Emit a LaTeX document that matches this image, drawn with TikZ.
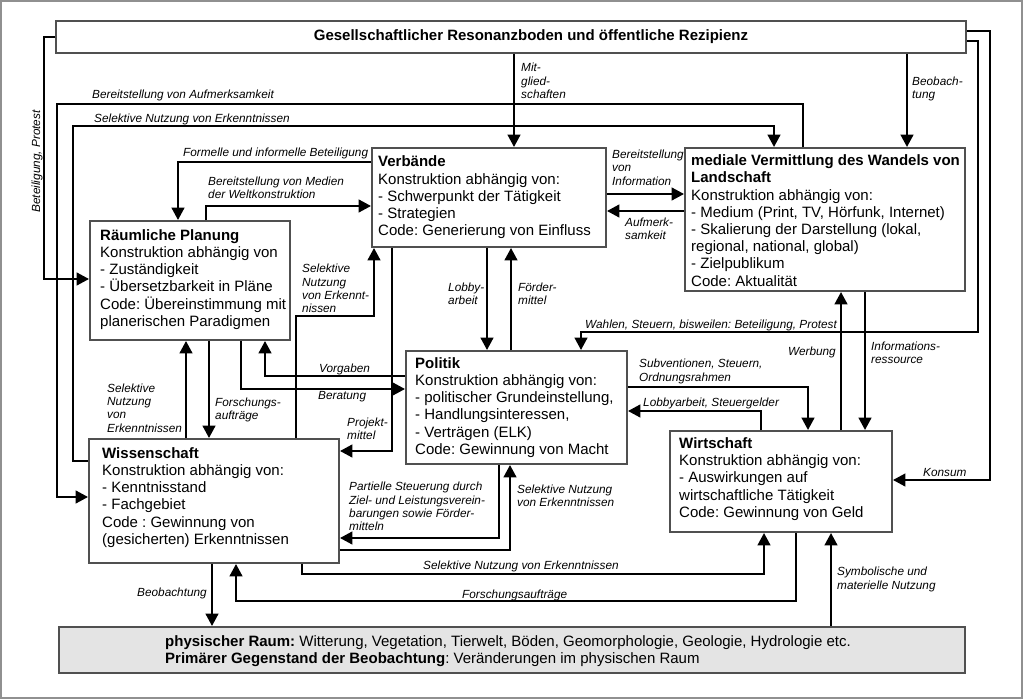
\documentclass[tikz,border=0pt]{standalone}
\usepackage{fontspec}
\setmainfont{Liberation Sans}
\usetikzlibrary{arrows.meta}
\definecolor{boxc}{HTML}{505050}
\definecolor{framec}{HTML}{909090}
\definecolor{physc}{HTML}{E4E4E4}
\frenchspacing
\begin{document}
\frenchspacing
\begin{tikzpicture}[x=1pt,y=-1pt,
  box/.style={draw=boxc, line width=1.8pt, fill=white, inner sep=0pt},
  btext/.style={anchor=west, align=left, inner sep=0pt, font=\fontsize{15}{17.2}\selectfont},
  lab/.style={anchor=west, align=left, inner sep=0pt, font=\fontsize{11.8}{13.4}\selectfont\itshape},
  conn/.style={line width=2.8pt, -{Triangle[length=12.5pt,width=12.5pt]}},
  nline/.style={line width=2.8pt}
]
\useasboundingbox (0,0) rectangle (1024,700);
\draw[framec, line width=1.5pt] (1,1) rectangle (1022,698);

% boxes
\node[box, minimum width=910pt, minimum height=32pt] (soc) at (511,37) {};
\node[inner sep=0pt, font=\fontsize{15}{17.2}\selectfont\bfseries] (socT) at (531,37) {Gesellschaftlicher Resonanzboden und öffentliche Rezipienz};

\node[box, minimum width=234pt, minimum height=99pt] (verb) at (489,197.5) {};
\node[btext] (verbT) at (378,197.5) {\textbf{Verbände}\\Konstruktion abhängig von:\\- Schwerpunkt der Tätigkeit\\- Strategien\\Code: Generierung von Einfluss};

\node[box, minimum width=280pt, minimum height=143pt] (med) at (825,219.5) {};
\node[btext] (medT) at (691,220.5) {\textbf{mediale Vermittlung des Wandels von}\\\textbf{Landschaft}\\Konstruktion abhängig von:\\- Medium (Print, TV, Hörfunk, Internet)\\- Skalierung der Darstellung (lokal,\\regional, national, global)\\- Zielpublikum\\Code: Aktualität};

\node[box, minimum width=200pt, minimum height=119pt] (rp) at (190,280.5) {};
\node[btext] (rpT) at (100,279.5) {\textbf{Räumliche Planung}\\Konstruktion abhängig von\\- Zuständigkeit\\- Übersetzbarkeit in Pläne\\Code: Übereinstimmung mit\\planerischen Paradigmen};

\node[box, minimum width=221pt, minimum height=113pt] (pol) at (516.5,407.5) {};
\node[btext] (polT) at (415,407.5) {\textbf{Politik}\\Konstruktion abhängig von:\\- politischer Grundeinstellung,\\- Handlungsinteressen,\\- Verträgen (ELK)\\Code: Gewinnung von Macht};

\node[box, minimum width=222pt, minimum height=101pt] (wirt) at (781,481.5) {};
\node[btext] (wirtT) at (679,479) {\textbf{Wirtschaft}\\Konstruktion abhängig von:\\- Auswirkungen auf\\wirtschaftliche Tätigkeit\\Code: Gewinnung von Geld};

\node[box, minimum width=250pt, minimum height=124pt] (wiss) at (214,501) {};
\node[btext] (wissT) at (102,497.5) {\textbf{Wissenschaft}\\Konstruktion abhängig von:\\- Kenntnisstand\\- Fachgebiet\\Code : Gewinnung von\\(gesicherten) Erkenntnissen};

\node[box, fill=physc, minimum width=906pt, minimum height=46pt] (phys) at (512,650) {};
\node[btext] (physT) at (165,651.5) {\textbf{physischer Raum:} Witterung, Vegetation, Tierwelt, Böden, Geomorphologie, Geologie, Hydrologie etc.\\\textbf{Primärer Gegenstand der Beobachtung}: Veränderungen im physischen Raum};

% connectors
\draw[conn] (soc.west) -- (44,37) |- (rp.west |- 0,279);
\draw[conn] (med.north -| 803,0) |- (57,104) |- (wiss.west |- 0,497);
\draw[conn] (wiss.west |- 0,461) -| (73,126) -| (med.north -| 774,0);
\draw[conn] (soc.south -| 514,0) -- (verb.north -| 514,0);
\draw[conn] (soc.south -| 907,0) -- (med.north -| 907,0);
\draw[conn] (verb.west |- 0,162) -| (rp.north -| 178,0);
\draw[conn] (rp.north -| 206,0) |- (verb.west |- 0,206);
\draw[conn] (verb.east |- 0,194) -- (med.west |- 0,194);
\draw[conn] (med.west |- 0,211) -- (verb.east |- 0,211);
\draw[conn] (wiss.north -| 296,0) |- (374,316) -- (verb.south -| 374,0);
\draw[conn] (verb.south -| 487,0) -- (pol.north -| 487,0);
\draw[conn] (pol.north -| 511,0) -- (verb.south -| 511,0);
\draw[conn] (verb.south -| 392,0) |- (wiss.east |- 0,451);
\draw[conn] (pol.west |- 0,376) -| (rp.south -| 265,0);
\draw[conn] (rp.south -| 241,0) |- (pol.west |- 0,389);
\draw[conn] (wiss.north -| 186,0) -- (rp.south -| 186,0);
\draw[conn] (rp.south -| 209,0) -- (wiss.north -| 209,0);
\draw[conn] (pol.south -| 499,0) |- (wiss.east |- 0,538);
\draw[conn] (wiss.east |- 0,550) -| (pol.south -| 510,0);
\draw[conn] (wiss.south -| 302,0) -- (302,574) -| (wirt.south -| 764,0);
\draw[conn] (wirt.south -| 796,0) -- (796,601) -| (wiss.south -| 236,0);
\draw[conn] (wiss.south -| 212,0) -- (phys.north -| 212,0);
\draw[conn] (phys.north -| 831,0) -- (wirt.south -| 831,0);
\draw[conn] (pol.east |- 0,387) -| (wirt.north -| 808,0);
\draw[conn] (wirt.north -| 761,0) |- (pol.east |- 0,411);
\draw[conn] (wirt.north -| 841,0) -- (med.south -| 841,0);
\draw[conn] (med.south -| 865,0) -- (wirt.north -| 865,0);
\draw[conn] (soc.east |- 0,41) -| (978,332) -| (pol.north -| 581,0);
\draw[conn] (soc.east |- 0,31) -| (990,480) -- (wirt.east |- 0,480);

% labels
\node[lab] (l1) at (92,95) {Bereitstellung von Aufmerksamkeit};
\node[lab] (l2) at (94,119) {Selektive Nutzung von Erkenntnissen};
\node[lab] (l3) at (183,153) {Formelle und informelle Beteiligung};
\node[lab] (l4) at (208,188) {Bereitstellung von Medien\\der Weltkonstruktion};
\node[lab] (l5) at (521,81) {Mit-\\glied-\\schaften};
\node[lab] (l6) at (912,89) {Beobach-\\tung};
\node[lab] (l7) at (612,167.5) {Bereitstellung\\von\\Information};
\node[lab] (l8) at (625,228.5) {Aufmerk-\\samkeit};
\node[lab] (l9) at (302,288.5) {Selektive\\Nutzung\\von Erkennt-\\nissen};
\node[lab] (l10) at (448,293.5) {Lobby-\\arbeit};
\node[lab] (l11) at (518,293.5) {Förder-\\mittel};
\node[lab] (l12) at (319,369) {Vorgaben};
\node[lab] (l13) at (318,397) {Beratung};
\node[lab] (l14) at (107,408) {Selektive\\Nutzung\\von\\Erkenntnissen};
\node[lab] (l15) at (215,409.7) {Forschungs-\\aufträge};
\node[lab] (l16) at (347,428.5) {Projekt-\\mittel};
\node[lab] (l17) at (585,325) {Wahlen, Steuern, bisweilen: Beteiligung, Protest};
\node[lab] (l18) at (639,371.5) {Subventionen, Steuern,\\Ordnungsrahmen};
\node[lab] (l19) at (643,403) {Lobbyarbeit, Steuergelder};
\node[lab, anchor=east] (l20) at (836,352) {Werbung};
\node[lab] (l21) at (871,352.5) {Informations-\\ressource};
\node[lab] (l22) at (923,472) {Konsum};
\node[lab] (l23) at (349,506.5) {Partielle Steuerung durch\\Ziel- und Leistungsverein-\\barungen sowie Förder-\\mitteln};
\node[lab] (l24) at (517,495.5) {Selektive Nutzung\\von Erkenntnissen};
\node[lab] (l25) at (423,566.7) {Selektive Nutzung von Erkenntnissen};
\node[lab] (l26) at (462,595.7) {Forschungsaufträge};
\node[lab] (l27) at (137,593.3) {Beobachtung};
\node[lab] (l28) at (837,579.3) {Symbolische und\\materielle Nutzung};
\node[lab, anchor=center, rotate=90] (l29) at (37,161.5) {Beteiligung, Protest};
\end{tikzpicture}
\end{document}
